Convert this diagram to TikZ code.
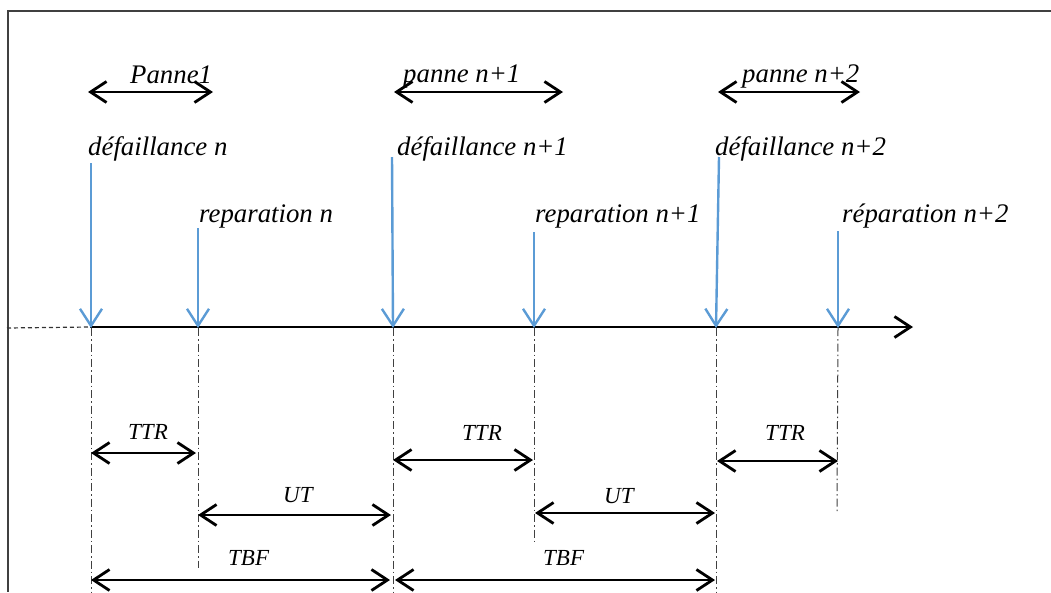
\documentclass[tikz,border=0pt]{standalone}
\usepackage{fontspec}
\setmainfont{Liberation Serif}
\usetikzlibrary{arrows.meta,calc}
\definecolor{evblue}{RGB}{91,155,213}
\begin{document}
\begin{tikzpicture}[x=1pt,y=-1pt,
  lbl/.style={font=\fontsize{26.8}{30}\selectfont\itshape, inner sep=0pt, anchor=base west},
  slbl/.style={font=\fontsize{23}{27}\selectfont\itshape, inner sep=0pt, anchor=base west},
  dim/.style={line width=2.8pt, {Straight Barb[length=16pt,width=21pt]}-{Straight Barb[length=16pt,width=21pt]}},
  ev/.style={evblue, line width=2.4pt, -{Straight Barb[length=17pt,width=22pt]}},
  guide/.style={black!75, line width=1pt, dash pattern=on 8pt off 3pt on 1.5pt off 3pt},
  axisline/.style={line width=2.8pt, -{Straight Barb[length=16pt,width=21pt]}},
  frameline/.style={black!75, line width=1.6pt},
  lead/.style={black!80, line width=1.2pt, dash pattern=on 4pt off 3pt}]
\useasboundingbox (0,0) rectangle (1051,592);
% frame
\coordinate (ftr) at (1051,11);
\coordinate (ftl) at (8,11);
\coordinate (fbl) at (8,592);
\draw[frameline] (ftr) -- (ftl) -- (fbl);
% axis
\coordinate (d0) at (7,328);
\coordinate (a0) at (90,327);
\coordinate (aend) at (913,327);
\draw[lead] (d0) -- (a0);
\draw[axisline] (a0) -- (aend);
% event points on axis
\coordinate (f1) at (91,328);
\coordinate (r1) at (198,328);
\coordinate (f2) at (393,328);
\coordinate (r2) at (534,328);
\coordinate (f3) at (716,328);
\coordinate (r3) at (838,328);
% blue arrow tops
\coordinate (f1t) at (91,163);
\coordinate (r1t) at (198,228);
\coordinate (f2t) at (392,157);
\coordinate (r2t) at (534,232);
\coordinate (f3t) at (719,157);
\coordinate (r3t) at (838,231);
% guide ends
\coordinate (f1b) at (91,592);
\coordinate (r1b) at (198,568);
\coordinate (f2b) at (393,592);
\coordinate (r2b) at (534,542);
\coordinate (f3b) at (716,592);
\coordinate (r3b) at (837,511);
\foreach \p in {f1,r1,f2,r2,f3,r3} \draw[guide] (\p) -- (\p b);
\foreach \p in {f1,r1,f2,r2,f3,r3} \draw[ev] (\p t) -- (\p);
% labels
\node[lbl] (lf1) at (88,155) {défaillance n};
\node[lbl] (lf2) at (397,155) {défaillance n+1};
\node[lbl] (lf3) at (715,155) {défaillance n+2};
\node[lbl] (lr1) at (199,222) {reparation n};
\node[lbl] (lr2) at (535,222) {reparation n+1};
\node[lbl] (lr3) at (842,222) {réparation n+2};
% panne arrows
\coordinate (p1a) at (88,92);  \coordinate (p1b) at (213,92);
\coordinate (p2a) at (394,92); \coordinate (p2b) at (563,92);
\coordinate (p3a) at (718,92); \coordinate (p3b) at (860,92);
\draw[dim] (p1a) -- (p1b);
\draw[dim] (p2a) -- (p2b);
\draw[dim] (p3a) -- (p3b);
\node[lbl] (lp1) at (130,83) {Panne1};
\node[lbl] (lp2) at (403,82) {panne n+1};
\node[lbl] (lp3) at (742,82) {panne n+2};
% TTR
\draw[dim] (f1 |- 0,453) -- (196,453);
\draw[dim] (f2 |- 0,460) -- (533,460);
\draw[dim] (717,461) -- (r3 |- 0,461);
\node[slbl] (lt1) at (128,439) {TTR};
\node[slbl] (lt2) at (462,440) {TTR};
\node[slbl] (lt3) at (765,440) {TTR};
% UT
\draw[dim] (r1 |- 0,515) -- (391,515);
\draw[dim] (535,513) -- (715,513);
\node[slbl] (lu1) at (283,502) {UT};
\node[slbl] (lu2) at (604,503) {UT};
% TBF
\draw[dim] (f1 |- 0,580) -- (390,580);
\draw[dim] (395,580) -- (715,580);
\node[slbl] (lb1) at (228,565) {TBF};
\node[slbl] (lb2) at (543,565) {TBF};
\end{tikzpicture}
\end{document}
